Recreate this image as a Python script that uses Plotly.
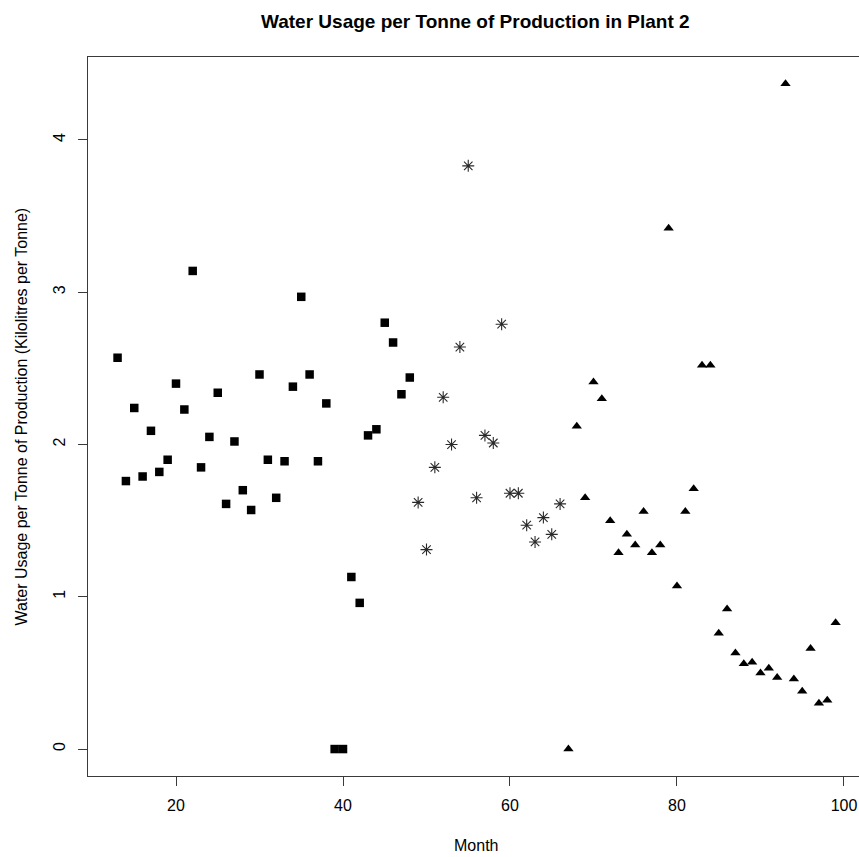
import plotly.graph_objects as go

# Monthly water usage per tonne of production, Plant 2, split into three periods
months_p1 = list(range(13, 49))
usage_p1 = [2.57, 1.76, 2.24, 1.79, 2.09, 1.82, 1.90, 2.40, 2.23, 3.14,
            1.85, 2.05, 2.34, 1.61, 2.02, 1.70, 1.57, 2.46, 1.90, 1.65,
            1.89, 2.38, 2.97, 2.46, 1.89, 2.27, 0.00, 0.00, 1.13, 0.96,
            2.06, 2.10, 2.80, 2.67, 2.33, 2.44]

months_p2 = list(range(49, 67))
usage_p2 = [1.62, 1.31, 1.85, 2.31, 2.00, 2.64, 3.83, 1.65, 2.06, 2.01,
            2.79, 1.68, 1.68, 1.47, 1.36, 1.52, 1.41, 1.61]

months_p3 = list(range(67, 100))
usage_p3 = [0.00, 2.12, 1.65, 2.41, 2.30, 1.50, 1.29, 1.41, 1.34, 1.56,
            1.29, 1.34, 3.42, 1.07, 1.56, 1.71, 2.52, 2.52, 0.76, 0.92,
            0.63, 0.56, 0.57, 0.50, 0.53, 0.47, 4.37, 0.46, 0.38, 0.66,
            0.30, 0.32, 0.83]

x_ticks = [20, 40, 60, 80, 100]
y_ticks = [0, 1, 2, 3, 4]

FONT = "Liberation Sans, Arial, Helvetica, sans-serif"
AXIS_COLOR = "#3a3a3a"

fig = go.Figure()
fig.add_trace(go.Scatter(
    x=months_p1, y=usage_p1, mode="markers",
    marker=dict(symbol="square", size=8.5, color="black", line=dict(width=0)),
    showlegend=False,
))
fig.add_trace(go.Scatter(
    x=months_p2, y=usage_p2, mode="markers",
    marker=dict(symbol="asterisk-open", size=10, color="#2a2a2a",
                line=dict(width=1.1, color="#2a2a2a")),
    showlegend=False,
))
fig.add_trace(go.Scatter(
    x=months_p3, y=usage_p3, mode="markers",
    marker=dict(symbol="triangle-up", size=9, color="black", line=dict(width=0)),
    showlegend=False,
))

fig.update_layout(
    width=859, height=857,
    margin=dict(l=88, r=0, t=57, b=81),
    paper_bgcolor="white", plot_bgcolor="white",
    font=dict(family=FONT, size=16, color="black"),
    xaxis=dict(
        range=[9.46, 101.8], tickvals=x_ticks, ticktext=[str(v) for v in x_ticks],
        showgrid=False, zeroline=False,
        showline=True, linecolor=AXIS_COLOR, linewidth=1.2, mirror=True,
        ticks="outside", ticklen=9, tickwidth=1.2, tickcolor=AXIS_COLOR,
        tickfont=dict(size=16, family=FONT), ticklabelstandoff=6,
    ),
    yaxis=dict(
        range=[-0.177, 4.545], tickvals=y_ticks, ticktext=[str(v) for v in y_ticks],
        showgrid=False, zeroline=False,
        showline=True, linecolor=AXIS_COLOR, linewidth=1.2, mirror=False,
        ticks="outside", ticklen=9, tickwidth=1.2, tickcolor=AXIS_COLOR,
        tickangle=-90, tickfont=dict(size=16, family=FONT), ticklabelstandoff=7,
    ),
    annotations=[
        dict(text="<b>Water Usage per Tonne of Production in Plant 2</b>",
             xref="paper", yref="paper", x=0.503, y=1.0487,
             xanchor="center", yanchor="middle", showarrow=False,
             font=dict(size=19, family=FONT)),
        dict(text="Month", xref="paper", yref="paper", x=0.503, y=-0.096,
             xanchor="center", yanchor="middle", showarrow=False,
             font=dict(size=16, family=FONT)),
        dict(text="Water Usage per Tonne of Production (Kilolitres per Tonne)",
             xref="paper", yref="paper", x=-0.0869, y=0.5, textangle=-90,
             xanchor="center", yanchor="middle", showarrow=False,
             font=dict(size=16, family=FONT)),
    ],
)

fig.write_html("out.html")
